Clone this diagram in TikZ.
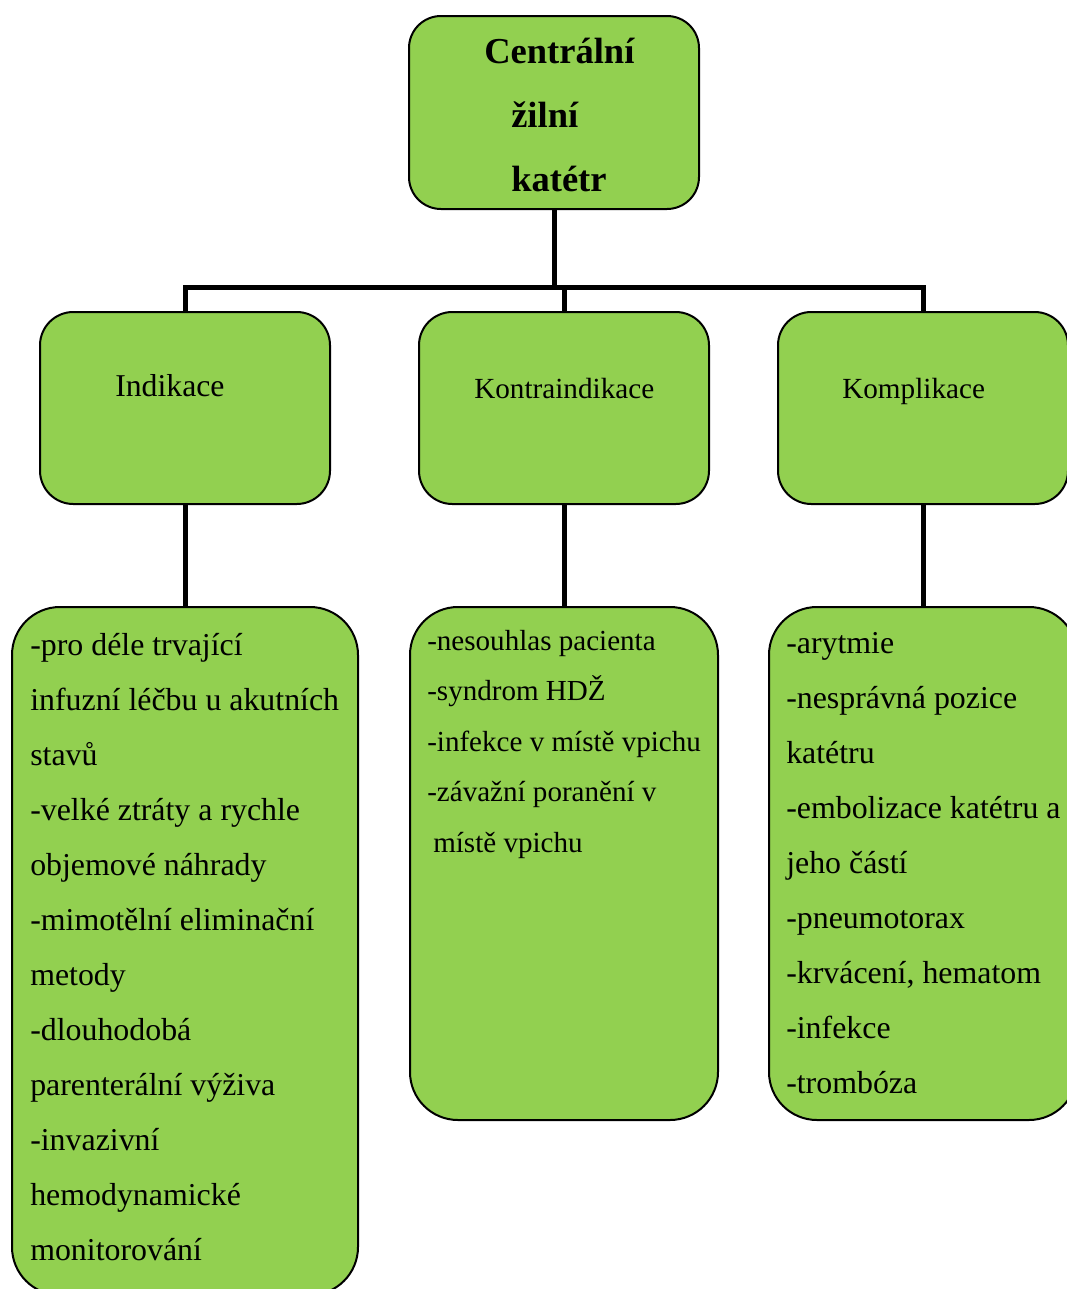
\documentclass[tikz,border=0pt]{standalone}
\usepackage{fontspec}
\setmainfont{Liberation Serif}
\definecolor{boxgreen}{HTML}{92D050}
\begin{document}
\begin{tikzpicture}[x=0.75pt,y=-0.75pt,
  box/.style={draw=black,line width=1.5pt,fill=boxgreen,rounded corners=#1,inner sep=0pt},
  box/.default=24pt,
  conn/.style={line width=3.75pt,line join=miter},
  txt/.style={anchor=base west,inner sep=0pt,align=flush left,text width=300pt}]
\useasboundingbox (0,0) rectangle (1067,1289);
% level 0
\node[box=24pt,minimum width=290*0.75pt,minimum height=193*0.75pt] (top) at (554,112.5) {};
% level 1
\node[box=25pt,minimum width=290*0.75pt,minimum height=192*0.75pt] (ind) at (185,408) {};
\node[box=25pt,minimum width=290*0.75pt,minimum height=192*0.75pt] (kon) at (564,408) {};
\node[box=25pt,minimum width=290*0.75pt,minimum height=192*0.75pt] (kom) at (923,408) {};
% level 2
\node[box=36pt,minimum width=346*0.75pt,minimum height=688*0.75pt] (b1) at (185,951) {};
\node[box=36pt,minimum width=308*0.75pt,minimum height=513*0.75pt] (b2) at (564,863.5) {};
\node[box=36pt,minimum width=308*0.75pt,minimum height=513*0.75pt] (b3) at (923,863.5) {};
% connectors
\coordinate (hl) at (185,287);
\draw[conn] (top.south) -- (top.south |- hl);
\draw[conn] (ind.north) -- (ind.north |- hl) -- (kom.north |- hl) -- (kom.north);
\draw[conn] (kon.north) -- (kon.north |- hl);
\draw[conn] (ind.south) -- (b1.north);
\draw[conn] (kon.south) -- (b2.north);
\draw[conn] (kom.south) -- (b3.north);
% texts
\node[txt,font=\fontsize{27.4}{48}\selectfont\bfseries] (ttop) at (484,63)
  {Centrální\\\hspace*{20.25pt}žilní\\\hspace*{20.25pt}katétr};
\node[txt,font=\fontsize{23.8}{28}\selectfont] (tind) at (115,396) {Indikace};
\node[txt,font=\fontsize{21.9}{26}\selectfont] (tkon) at (474,398) {Kontraindikace};
\node[txt,font=\fontsize{21.9}{26}\selectfont] (tkom) at (842,398) {Komplikace};
\node[txt,font=\fontsize{23.9}{41.25}\selectfont] (t1) at (30,655)
  {-pro déle trvající\\
   infuzní léčbu u akutních\\
   stavů\\
   -velké ztráty a rychle\\
   objemové náhrady\\
   -mimotělní eliminační\\
   metody\\
   -dlouhodobá\\
   parenterální výživa\\
   -invazivní\\
   hemodynamické\\
   monitorování};
\node[txt,font=\fontsize{21.8}{37.9}\selectfont] (t2) at (427,650)
  {-nesouhlas pacienta\\
   -syndrom HDŽ\\
   -infekce v místě vpichu\\
   -závažní poranění v\\
   \hspace*{4.5pt}místě vpichu};
\node[txt,font=\fontsize{23.9}{41.3}\selectfont] (t3) at (786,653)
  {-arytmie\\
   -nesprávná pozice\\
   katétru\\
   -embolizace katétru a\\
   jeho částí\\
   -pneumotorax\\
   -krvácení, hematom\\
   -infekce\\
   -trombóza};
\end{tikzpicture}
\end{document}
